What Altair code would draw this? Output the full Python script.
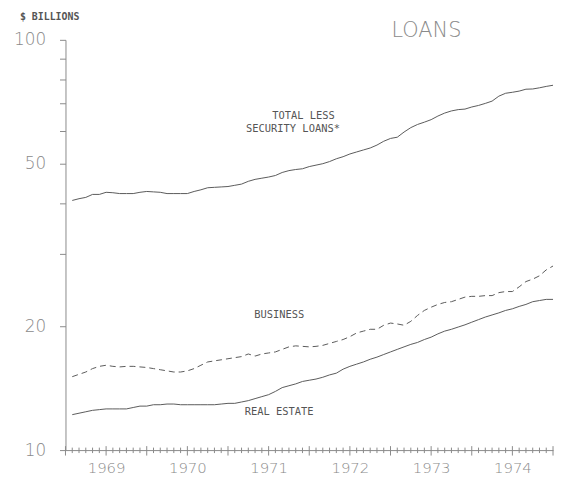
import altair as alt
import pandas as pd

# month index (months after Jan 1 1969, end-of-month position)
months = list(range(1, 73))

total = [40.6, 41.0, 41.3, 42.0, 42.0, 42.5, 42.4, 42.2, 42.2, 42.2, 42.5, 42.7,
         42.6, 42.5, 42.2, 42.2, 42.2, 42.2, 42.7, 43.1, 43.6, 43.7, 43.8, 43.9,
         44.2, 44.5, 45.2, 45.7, 46.0, 46.3, 46.7, 47.5, 48.0, 48.3, 48.5, 49.1,
         49.5, 49.9, 50.5, 51.3, 51.9, 52.7, 53.3, 53.9, 54.5, 55.4, 56.6, 57.5,
         57.9, 59.6, 61.1, 62.2, 63.0, 63.9, 65.2, 66.3, 67.1, 67.6, 67.8, 68.6,
         69.2, 70.0, 70.9, 72.9, 74.1, 74.5, 75.0, 75.8, 75.9, 76.4, 77.0, 77.5]

business = [15.1, 15.3, 15.5, 15.8, 16.0, 16.1, 16.0, 15.95, 16.0, 16.0, 15.95, 15.9,
            15.8, 15.7, 15.6, 15.5, 15.5, 15.6, 15.8, 16.1, 16.4, 16.5, 16.6, 16.7,
            16.8, 16.9, 17.15, 16.95, 17.15, 17.25, 17.35, 17.6, 17.85, 17.95, 17.9, 17.85,
            17.9, 18.0, 18.2, 18.4, 18.6, 18.9, 19.3, 19.5, 19.7, 19.7, 20.15, 20.4,
            20.3, 20.15, 20.6, 21.3, 21.9, 22.3, 22.65, 22.9, 23.0, 23.3, 23.6, 23.7,
            23.7, 23.8, 23.8, 24.2, 24.35, 24.35, 25.0, 25.75, 26.1, 26.6, 27.5, 28.1]

real_estate = [12.2, 12.3, 12.4, 12.5, 12.55, 12.6, 12.6, 12.6, 12.6, 12.7, 12.8, 12.8,
               12.9, 12.9, 12.95, 12.95, 12.9, 12.9, 12.9, 12.9, 12.9, 12.9, 12.95, 13.0,
               13.0, 13.1, 13.2, 13.35, 13.5, 13.65, 13.9, 14.2, 14.35, 14.5, 14.7, 14.8,
               14.9, 15.05, 15.25, 15.4, 15.75, 16.0, 16.2, 16.4, 16.65, 16.85, 17.1, 17.35,
               17.6, 17.85, 18.1, 18.3, 18.6, 18.85, 19.2, 19.5, 19.7, 19.95, 20.2, 20.5,
               20.8, 21.1, 21.35, 21.6, 21.9, 22.1, 22.4, 22.65, 23.0, 23.15, 23.3, 23.3]

year_labels = [1969, 1970, 1971, 1972, 1973, 1974]
y_ticks = [10, 20, 30, 40, 50, 60, 70, 80, 90, 100]
y_labels = [10, 20, 50, 100]

series_labels = ["TOTAL LESS", "SECURITY LOANS*", "BUSINESS", "REAL ESTATE"]
label_t = [1971.93, 1971.80, 1971.63, 1971.63]
label_v = [65.2, 60.6, 21.3, 12.4]

LINE = "#5a5a5a"
AX = "#8a8a8a"

rows = []
for i, m in enumerate(months):
    t = 1969 + m / 12
    rows.append({"t": t, "v": total[i], "s": "total"})
    rows.append({"t": t, "v": real_estate[i], "s": "real"})
    rows.append({"t": t, "v": business[i], "s": "business"})
df = pd.DataFrame(rows)

minor_df = pd.DataFrame({"t": [1969 + k / 12 for k in range(0, 73) if k % 6 != 0]})
major_df = pd.DataFrame({"t": [1969 + k / 12 for k in range(0, 73) if k % 6 == 0]})

lab_df = pd.DataFrame({"t": label_t, "v": label_v, "txt": series_labels})

PH = 414
xscale = alt.Scale(domain=[1969, 1975], nice=False, zero=False)
yscale = alt.Scale(type="log", domain=[10, 100], nice=False)

label_cond = " || ".join(f"datum.value == {v}" for v in y_labels)

xaxis = alt.Axis(values=[y + 0.5 for y in year_labels], labelExpr="floor(datum.value)",
                 ticks=False, grid=False, title=None, domainColor=AX,
                 labelFont="DejaVu Sans", labelFontSize=15, labelFontWeight=200,
                 labelColor=AX, labelPadding=11, labelAngle=0)
yaxis = alt.Axis(values=y_ticks, labelExpr=f"({label_cond}) ? datum.label : ''",
                 tickSize=6, tickColor=AX, domainColor=AX, grid=False, title=None,
                 labelFont="DejaVu Sans", labelFontSize=17, labelFontWeight=200,
                 labelColor=AX, labelPadding=14)

base = alt.Chart(df)

solid = base.transform_filter("datum.s != 'business'").mark_line(
    color=LINE, strokeWidth=1).encode(
    x=alt.X("t:Q", scale=xscale, axis=xaxis),
    y=alt.Y("v:Q", scale=yscale, axis=yaxis),
    detail="s:N",
)

dashed = base.transform_filter("datum.s == 'business'").mark_line(
    color=LINE, strokeWidth=1, strokeDash=[6, 4]).encode(
    x=alt.X("t:Q", scale=xscale),
    y=alt.Y("v:Q", scale=yscale),
)

minor_ticks = alt.Chart(minor_df).mark_rule(color=AX, strokeWidth=1).encode(
    x=alt.X("t:Q", scale=xscale),
    y=alt.value(PH - 2.5),
    y2=alt.value(PH + 3),
)

major_ticks = alt.Chart(major_df).mark_rule(color=AX, strokeWidth=1).encode(
    x=alt.X("t:Q", scale=xscale),
    y=alt.value(PH - 4),
    y2=alt.value(PH + 5.5),
)

labels = alt.Chart(lab_df).mark_text(
    font="DejaVu Sans Mono", fontSize=10.5, color="#555555", align="center", baseline="middle"
).encode(
    x=alt.X("t:Q", scale=xscale),
    y=alt.Y("v:Q", scale=yscale),
    text="txt:N",
)

unit = alt.Chart(pd.DataFrame({"txt": ["$ BILLIONS"]})).mark_text(
    font="DejaVu Sans Mono", fontSize=10, fontWeight="bold", color="#555555",
    align="left", baseline="middle"
).encode(x=alt.value(-46), y=alt.value(-23), text="txt:N")

title = alt.Chart(pd.DataFrame({"txt": ["LOANS"]})).mark_text(
    font="DejaVu Sans", fontSize=21, fontWeight=200, color=AX,
    align="left", baseline="middle"
).encode(x=alt.value(329), y=alt.value(-9), text="txt:N")

chart = alt.layer(solid, dashed, minor_ticks, major_ticks, labels, unit, title).properties(
    width=492, height=PH,
    autosize=alt.AutoSizeParams(type="none"),
    padding={"left": 58, "top": 30, "right": 2, "bottom": 24},
).configure_view(stroke=None)

chart.save("out.html", embed_options={"renderer": "svg", "actions": False})
